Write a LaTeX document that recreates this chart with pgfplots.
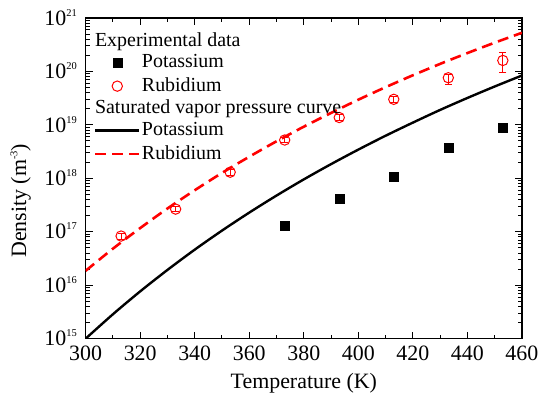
\documentclass[border=0pt]{standalone}
\usepackage{fontspec}
\setmainfont{Liberation Serif}
\usepackage{pgfplots}
\pgfplotsset{compat=1.18}
\definecolor{myred}{RGB}{255,0,0}
\newcommand{\supr}[1]{\raisebox{9pt}[0pt][0pt]{\fontsize{10.5}{10.5}\selectfont #1}}
\pgfplotsset{
  linelegend/.style={legend image code/.code={\draw[##1] (0pt,0pt) -- (44pt,0pt);}},
  marklegend/.style={legend image code/.code={\draw[##1] plot coordinates {(22pt,0pt)};}},
  headlegend/.style={legend image code/.code={\node[anchor=west,inner sep=0pt,text=black] at (-1pt,0pt) {\rlap{#1}};}},
}
\begin{document}
\fontsize{20}{24}\selectfont
\begin{tikzpicture}
\begin{axis}[
  scale only axis, width=438pt, height=322pt,
  xmin=300, xmax=460, ymin=1e15, ymax=1e21, ymode=log, log basis y=10,
  xtick={300,320,...,460}, minor x tick num=1,
  ytick={1e15,1e16,1e17,1e18,1e19,1e20,1e21},
  minor ytick={2e15,3e15,4e15,5e15,6e15,7e15,8e15,9e15,
               2e16,3e16,4e16,5e16,6e16,7e16,8e16,9e16,
               2e17,3e17,4e17,5e17,6e17,7e17,8e17,9e17,
               2e18,3e18,4e18,5e18,6e18,7e18,8e18,9e18,
               2e19,3e19,4e19,5e19,6e19,7e19,8e19,9e19,
               2e20,3e20,4e20,5e20,6e20,7e20,8e20,9e20},
  yticklabel={\pgfmathparse{int(round(\tick))}10\supr{\pgfmathresult}},
  /pgf/number format/assume math mode=true,
  /pgf/number format/1000 sep={},
  tick align=inside, major tick length=7pt, minor tick length=4pt,
  axis line style={line width=1.5pt}, every tick/.style={line width=1pt, black},
  tick label style={font=\fontsize{22}{24}\selectfont},
  yticklabel style={xshift=-2pt},
  label style={font=\fontsize{22}{24}\selectfont},
  xlabel={Temperature (K)}, ylabel={Density (m\supr{-3})},
  ylabel style={at={(ticklabel cs:0.43)}},
  legend cell align=left,
  legend style={at={(0.012,0.962)}, anchor=north west, draw=none, fill=none,
    font=\fontsize{20}{24}\selectfont, row sep=4pt, nodes={inner sep=1.5pt}},
]
\addlegendimage{headlegend={Experimental data}}
\addlegendentry{}
\addplot[only marks, mark=square*, mark size=4.5pt, black, marklegend]
  coordinates {(373,1.28e17) (393,4.1e17) (413,1.09e18) (433,3.8e18) (453,8.9e18)};
\addlegendentry{Potassium}
\addplot[only marks, mark=o, mark size=5.2pt, myred, line width=1pt, marklegend,
  error bars/.cd, y dir=both, y explicit,
  error bar style={line width=1pt, myred},
  error mark options={rotate=90, mark size=3.5pt, line width=1pt, myred}]
  coordinates {
   (313,8.3e16) += (0,1.0e16) -= (0,1.0e16)
   (333,2.65e17) += (0,3e16) -= (0,3e16)
   (353,1.3e18) += (0,1.5e17) -= (0,1.5e17)
   (373,5.2e18) += (0,6e17) -= (0,6e17)
   (393,1.37e19) += (0,1.6e18) -= (0,1.6e18)
   (413,3.0e19) += (0,4e18) -= (0,4e18)
   (433,7.6e19) += (0,1.2e19) -= (0,2.0e19)
   (453,1.6e20) += (0,7e19) -= (0,6.3e19)
  };
\addlegendentry{Rubidium}
\addlegendimage{headlegend={Saturated vapor pressure curve}}
\addlegendentry{}
\addplot[black, line width=2.4pt, smooth, linelegend]
  coordinates {(300,1.00e15) (310,2.86e15) (320,7.66e15) (330,1.93e16) (340,4.62e16)
   (350,1.05e17) (360,2.28e17) (370,4.75e17) (380,9.53e17) (390,1.84e18) (400,3.44e18)
   (410,6.25e18) (420,1.10e19) (430,1.90e19) (440,3.18e19) (450,5.21e19) (460,8.36e19)};
\addlegendentry{Potassium}
\addplot[myred, line width=2.6pt, smooth, dash pattern=on 11pt off 6pt, linelegend]
  coordinates {(300,1.86e16) (310,4.82e16) (320,1.17e17) (330,2.72e17) (340,5.97e17)
   (350,1.26e18) (360,2.53e18) (370,4.92e18) (380,9.23e18) (390,1.67e19) (400,2.95e19)
   (410,5.06e19) (420,8.45e19) (430,1.38e20) (440,2.20e20) (450,3.44e20) (460,5.27e20)};
\addlegendentry{Rubidium}
\end{axis}
\path (current axis.south west) ++(-86pt,-60pt);
\path (current axis.north west) ++(0pt,18pt);
\end{tikzpicture}
\end{document}
